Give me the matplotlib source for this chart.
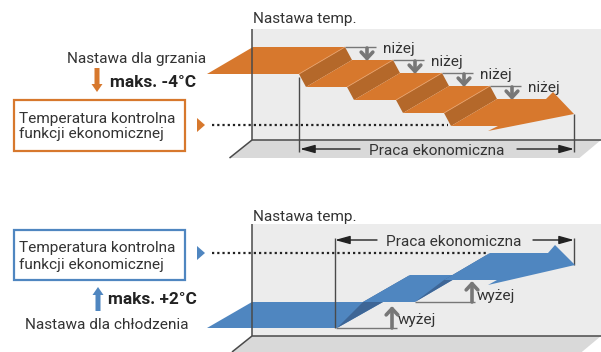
# -*- coding: utf-8 -*-
"""
schemat: praca ekonomiczna (grzanie / chlodzenie)
"""
import matplotlib
matplotlib.use('Agg')
import matplotlib.pyplot as plt
from matplotlib import patches

# teksty
setpoint_label = "Nastawa temp."
heat_label = "Nastawa dla grzania"
cool_label = "Nastawa dla chłodzenia"
heat_limit = "maks. -4°C"
cool_limit = "maks. +2°C"
box_lines = ["Temperatura kontrolna", "funkcji ekonomicznej"]
eco_label = "Praca ekonomiczna"
step_down = "niżej"
step_up = "wyżej"

# grzanie: poziomy stopni (tyl stopnia, px) i polozenie krawedzi stopni
heat_levels = [47, 60, 73, 86, 99]
heat_edges = [345, 393, 442, 490]
# chlodzenie: poziomy stopni (przod, tyl)
cool_front = [328, 302, 280]
cool_back = [302, 275, 253]

WALL = '#ececec'
FLOOR = '#d9d9d9'
LINE = '#4a4a4a'
ORANGE = '#d7782d'
ORANGE_D = '#b4682a'
BLUE = '#4f86c0'
BLUE_D = '#3e6696'
GREY = '#777777'

FONT = ['Roboto', 'DejaVu Sans']

fig = plt.figure(figsize=(6.01, 3.52), dpi=100)
ax = fig.add_axes([0, 0, 1, 1])
ax.set_xlim(0, 601)
ax.set_ylim(352, 0)
ax.axis('off')
rend = fig.canvas.get_renderer()


def poly(pts, color, z=2):
    ax.add_patch(patches.Polygon(pts, closed=True, facecolor=color,
                                 edgecolor='none', zorder=z))


def line(xs, ys, color=LINE, lw=1.0, z=3, **kw):
    ax.plot(xs, ys, color=color, lw=lw, zorder=z,
            solid_capstyle='butt', **kw)


def fit_size(s, width, weight='normal'):
    t = ax.text(0, 0, s, fontsize=10, family=FONT, weight=weight)
    w = t.get_window_extent(renderer=rend).width
    t.remove()
    return 10 * width / w


fs = fit_size(box_lines[0], 151) * 1.04
fsb = fit_size(heat_limit, 83, 'bold') * 1.04


def txt(x, y, s, ha='left', size=None, weight='normal', color='#333333'):
    ax.text(x, y, s, ha=ha, va='baseline', fontsize=size or fs,
            family=FONT, weight=weight, color=color, zorder=6)


def arrow_text(x0, x1, y):
    ap = dict(arrowstyle='-|>,head_length=0.9,head_width=0.25',
              color='#222222', lw=1, shrinkA=0, shrinkB=0)
    ax.annotate('', xy=(x1, y), xytext=(x0, y), arrowprops=ap, zorder=5)


def step_arrow(x, y0, y1):
    ap = dict(arrowstyle='->,head_length=0.45,head_width=0.42',
              color=GREY, lw=2.6, shrinkA=0, shrinkB=0)
    ax.annotate('', xy=(x, y1), xytext=(x, y0), arrowprops=ap, zorder=5)


def panel(top, bottom, floor_h):
    poly([(252, top), (601, top), (601, bottom), (252, bottom)], WALL, 0)
    poly([(252, bottom), (601, bottom), (601 - 1.2 * floor_h, bottom + floor_h),
          (252 - 1.25 * floor_h, bottom + floor_h)], FLOOR, 0)
    line([252, 252], [top, bottom], lw=1.1)
    line([252, 601], [bottom, bottom], lw=1.1)
    line([252, 252 - 1.25 * floor_h], [bottom, bottom + floor_h], lw=1.1)


# ---------------- grzanie ----------------
panel(29, 140, 18)
txt(253, 23, setpoint_label)

depth = 46
th = 27
left = 253
for i, lv in enumerate(heat_levels[:-1]):
    r = heat_edges[i]
    poly([(left - depth, lv + th), (left, lv), (r, lv), (r - depth, lv + th)],
         ORANGE)
    poly([(r - depth, lv + th), (r, lv), (r + 7, lv + 13),
          (r + 7 - depth, lv + 13 + th)], ORANGE_D)
    line([r - depth, r], [lv + th, lv], color='#e9a068', lw=0.6, z=2.5)
    # niżej
    line([r, r + 31], [lv, lv], color=GREY, lw=1.0, z=4)
    step_arrow(r + 22, lv + 1, lv + 14)
    txt(r + 38, lv + 6, step_down)
    left = r + 7

lv = heat_levels[-1]
poly([(left - depth, lv + th), (left, lv), (546, lv), (553, lv - 7),
      (574, lv + 15), (488, lv + 32), (498, lv + th)], ORANGE)

# linia kontrolna
poly([(197, 118), (205, 125), (197, 132)], ORANGE, 4)
line([212, 448], [125, 125], color='#222222', lw=1.6,
     ls=(0, (1, 1.35)), z=1)
line([299, 299], [77, 152], lw=1.0, z=1)
line([574, 574], [114, 152], lw=1.0, z=1)
arrow_text(360, 300, 149)
arrow_text(517, 574, 149)
txt(437, 155, eco_label, ha='center')

txt(137, 63, heat_label, ha='center')
ax.add_patch(patches.FancyArrow(97, 68, 0, 24, width=5, head_width=11,
                                head_length=8, length_includes_head=True,
                                color=ORANGE, lw=0, zorder=4))
txt(110, 87, heat_limit, size=fsb, weight='bold', color='#222222')
ax.add_patch(patches.Rectangle((14, 100), 171, 51, facecolor='white',
                               edgecolor=ORANGE, lw=1.6, zorder=4))
txt(19, 123, box_lines[0])
txt(19, 138, box_lines[1])

# ---------------- chłodzenie ----------------
panel(224, 336, 16)
txt(253, 221, setpoint_label)

poly([(207, cool_front[0]), (252, cool_back[0]), (383, cool_back[0]),
      (337, cool_front[0])], BLUE)
poly([(337, 328), (383, 302), (410, 275), (363, 302)], BLUE_D)
poly([(363, cool_front[1]), (410, cool_back[1]), (461, cool_back[1]),
      (415, cool_front[1])], BLUE)
poly([(415, 302), (461, 275), (490, 253), (444, 280)], BLUE_D)
poly([(444, cool_front[2]), (490, cool_back[2]), (548, 253), (555, 245),
      (575, 265), (488, 285), (497, cool_front[2])], BLUE)

poly([(197, 246), (205, 253), (197, 260)], BLUE, 4)
line([212, 487], [253, 253], color='#222222', lw=1.6,
     ls=(0, (1, 1.35)), z=1)
line([335, 335], [238, 328], lw=1.0, z=3)
line([574, 574], [238, 265], lw=1.0, z=1)
arrow_text(377, 335, 240)
arrow_text(533, 574, 240)
txt(454, 246, eco_label, ha='center')

# wyżej
line([336, 397], [328, 328], color=GREY, lw=1.0, z=4)
step_arrow(392, 328, 306)
txt(398, 324, step_up)
line([415, 475], [302, 302], color=GREY, lw=1.0, z=4)
step_arrow(472, 302, 281)
txt(477, 300, step_up)

ax.add_patch(patches.Rectangle((14, 230), 171, 50, facecolor='white',
                               edgecolor='#4f86c0', lw=1.6, zorder=4))
txt(19, 252, box_lines[0])
txt(19, 269, box_lines[1])
ax.add_patch(patches.FancyArrow(98, 311, 0, -24, width=5, head_width=11,
                                head_length=8, length_includes_head=True,
                                color=BLUE, lw=0, zorder=4))
txt(108, 304, cool_limit, size=fsb, weight='bold', color='#222222')
txt(107, 329, cool_label, ha='center')

fig.savefig('out.png', dpi=100)
